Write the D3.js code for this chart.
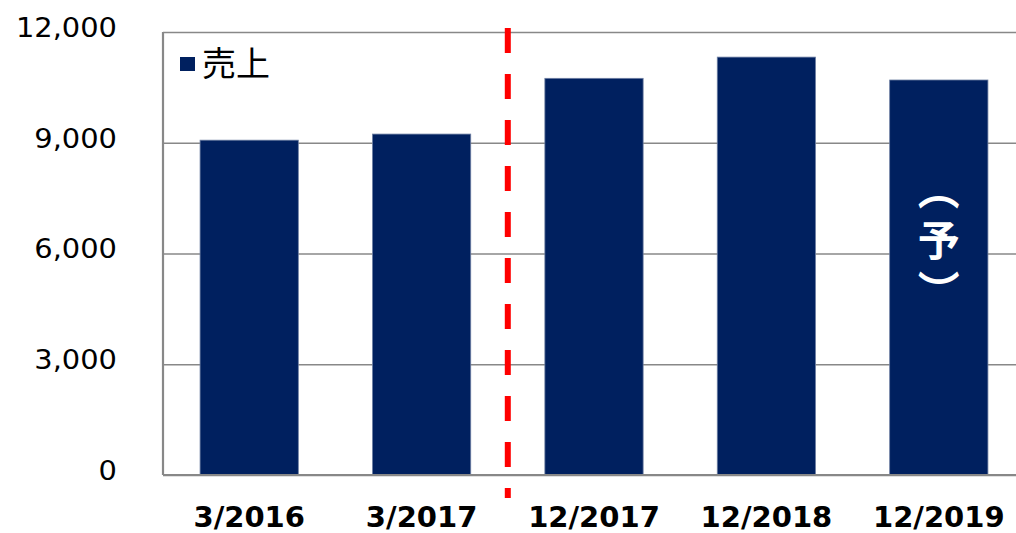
<!DOCTYPE html>
<html>
<head>
<meta charset="utf-8">
<script src="https://cdn.jsdelivr.net/npm/d3@7"></script>
<style>
  body { margin: 0; background: #fff; }
  svg { display: block; }
</style>
</head>
<body>
<div id="chart"></div>
<script>
// data
const categories = ["3/2016", "3/2017", "12/2017", "12/2018", "12/2019"];
const sales = [9070, 9235, 10745, 11320, 10700];
const yTicks = [0, 3000, 6000, 9000, 12000];
const seriesName = "売上";
const forecastMark = "（予）";

const width = 1016;
const height = 533;
const margin = { top: 32, right: -9, bottom: 58, left: 163 };
const chartWidth = width - margin.left - margin.right;
const chartHeight = height - margin.top - margin.bottom;

const barColor = "#00205f";
const gridColor = "#888888";

const svg = d3.select("#chart").append("svg")
  .attr("width", width)
  .attr("height", height);

const g = svg.append("g")
  .attr("transform", "translate(" + margin.left + "," + margin.top + ")");

const xScale = d3.scaleBand()
  .domain(categories)
  .range([0, chartWidth])
  .paddingInner(0.43)
  .paddingOuter(0.215);

const yScale = d3.scaleLinear()
  .domain([0, 12000])
  .range([chartHeight, 0]);

// gridlines + y labels
const yAxis = g.append("g")
  .call(d3.axisLeft(yScale)
    .tickValues(yTicks)
    .tickSize(-chartWidth)
    .tickFormat(d3.format(",")));

yAxis.select(".domain").remove();
yAxis.selectAll(".tick line")
  .attr("stroke", gridColor)
  .attr("stroke-width", 1.4);
yAxis.selectAll(".tick text")
  .attr("x", 0)
  .attr("y", -5)
  .attr("dy", "0.35em")
  .attr("transform", "translate(-46,0) scale(1.07,1)")
  .attr("fill", "#000")
  .style("font-family", "'DejaVu Sans', Verdana, sans-serif")
  .style("font-size", "27px");

// bars
g.selectAll(".bar")
  .data(sales)
  .enter().append("rect")
  .attr("class", "bar")
  .attr("x", (d, i) => xScale(categories[i]))
  .attr("y", d => yScale(d))
  .attr("width", xScale.bandwidth())
  .attr("height", d => chartHeight - yScale(d))
  .attr("fill", barColor)
  .attr("stroke", "#6f80a3")
  .attr("stroke-width", 0.8);

// axis lines
g.append("line")
  .attr("x1", 0).attr("x2", 0)
  .attr("y1", yScale(12000)).attr("y2", yScale(0))
  .attr("stroke", gridColor).attr("stroke-width", 2.2);
g.append("line")
  .attr("x1", 0).attr("x2", chartWidth)
  .attr("y1", yScale(0)).attr("y2", yScale(0))
  .attr("stroke", gridColor).attr("stroke-width", 2.2);

// x labels
const xAxis = g.append("g")
  .attr("transform", "translate(0," + chartHeight + ")")
  .call(d3.axisBottom(xScale).tickSize(0).tickPadding(0));
xAxis.select(".domain").remove();
xAxis.selectAll(".tick text")
  .attr("y", 31)
  .attr("dy", "0.71em")
  .attr("fill", "#000")
  .style("font-family", "'DejaVu Sans', Verdana, sans-serif")
  .style("font-weight", "bold")
  .style("font-size", "29px");

// red dashed divider between actual fiscal years and calendar years
const splitX = (xScale("3/2017") + xScale.bandwidth() + xScale("12/2017")) / 2;
g.append("line")
  .attr("x1", splitX).attr("x2", splitX)
  .attr("y1", -4).attr("y2", chartHeight + 23)
  .attr("stroke", "#ff0000")
  .attr("stroke-width", 6)
  .attr("stroke-dasharray", "25,21");

// legend
const legend = g.append("g").attr("transform", "translate(17,25)");
legend.append("rect")
  .attr("x", 0).attr("y", 0)
  .attr("width", 15).attr("height", 14)
  .attr("fill", barColor);
legend.append("text")
  .attr("x", 22).attr("y", 7)
  .attr("dy", "0.36em")
  .attr("fill", "#000")
  .style("font-family", "'Noto Sans CJK JP', sans-serif")
  .style("font-size", "34px")
  .text(seriesName);

// forecast mark （予）, written vertically inside the last bar
const lastCx = xScale("12/2019") + xScale.bandwidth() / 2;
g.append("text")
  .attr("x", lastCx)
  .attr("y", yScale(0) - 230)
  .attr("text-anchor", "middle")
  .attr("fill", "#fff")
  .style("writing-mode", "vertical-rl")
  .style("letter-spacing", "9px")
  .style("font-family", "'Noto Sans CJK JP', sans-serif")
  .style("font-weight", "bold")
  .style("font-size", "42px")
  .text(forecastMark);
</script>
</body>
</html>
